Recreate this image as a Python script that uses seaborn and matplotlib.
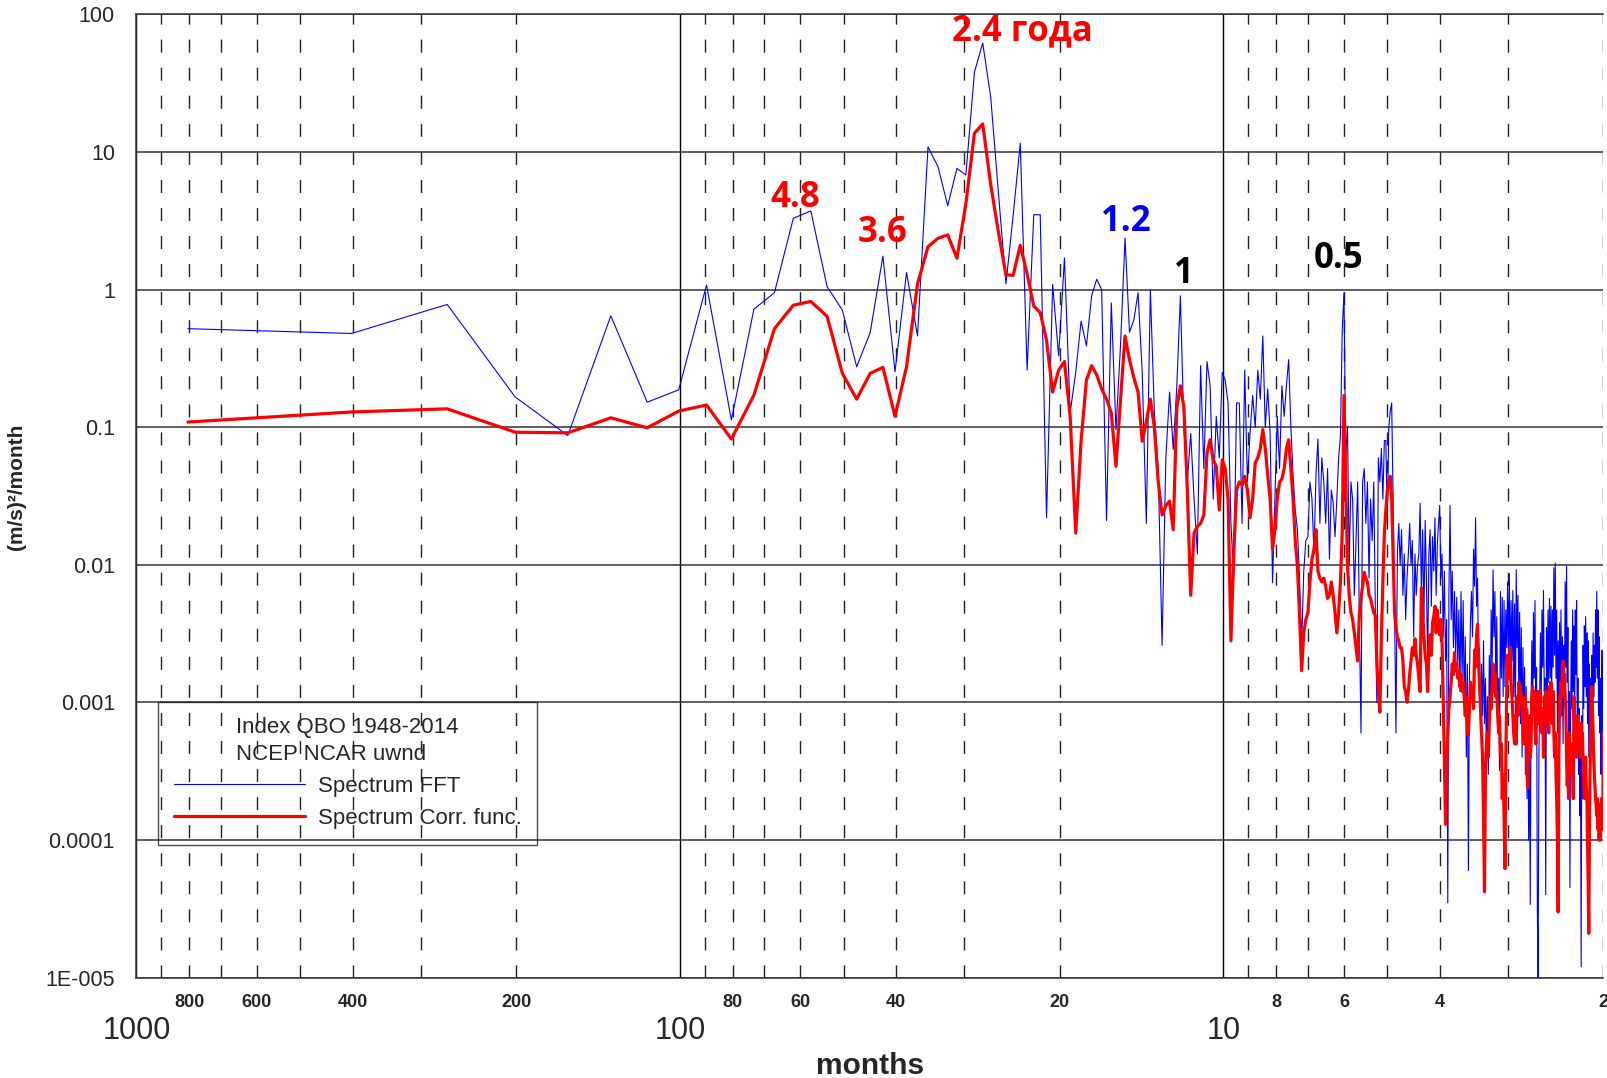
import numpy as np
import pandas as pd
import matplotlib
matplotlib.use("Agg")
import matplotlib.pyplot as plt
import seaborn as sns
from matplotlib.ticker import LogLocator, NullFormatter
from matplotlib.lines import Line2D

# Monthly QBO index record, 1948-2014
RECORD_MONTHS = 804

# FFT power spectrum, (m/s)^2/month, harmonics k = 1..80
fft_low = [0.52, 0.48, 0.78, 0.166, 0.087, 0.645, 0.152, 0.187, 1.08, 0.113,
           0.72, 0.95, 3.3, 3.73, 1.05, 0.71, 0.275, 0.486, 1.75, 0.253,
           1.33, 0.46, 10.9, 7.8, 4.07, 7.6, 6.8, 38, 62, 25,
           5.0, 1.1, 3.5, 11.6, 0.26, 3.5, 3.5, 0.022, 1.09, 0.33,
           1.7, 0.127, 0.25, 0.59, 0.39, 0.9, 1.19, 1.0, 0.021, 0.8,
           0.096, 0.4, 2.37, 0.49, 0.6, 0.95, 0.25, 0.02, 1.0, 0.13,
           0.05, 0.0026, 0.06, 0.18, 0.069, 0.2, 0.9, 0.1, 0.04, 0.09,
           0.03, 0.012, 0.28, 0.05, 0.3, 0.2, 0.03, 0.12, 0.06, 0.25]
# harmonics k = 81..184
fft_mid = [0.22, 0.15, 0.02, 0.008, 0.15, 0.15, 0.02, 0.26, 0.04, 0.09,
           0.17, 0.1, 0.26, 0.16, 0.46, 0.1, 0.19, 0.09, 0.0074, 0.03,
           0.12, 0.05, 0.2, 0.12, 0.2, 0.31, 0.1, 0.045, 0.025, 0.018,
           0.008, 0.0027, 0.009, 0.015, 0.016, 0.04, 0.03, 0.012, 0.045, 0.082,
           0.02, 0.06, 0.04, 0.02, 0.05, 0.011, 0.035, 0.028, 0.016, 0.03,
           0.06, 0.086, 0.5, 0.95, 0.06, 0.1, 0.01, 0.04, 0.03, 0.006,
           0.015, 0.04, 0.004, 0.0006, 0.04, 0.05, 0.02, 0.04, 0.008, 0.03,
           0.015, 0.04, 0.005, 0.001, 0.06, 0.04, 0.07, 0.03, 0.08, 0.08,
           0.02, 0.1, 0.13, 0.15, 0.03, 0.005, 0.0006, 0.012, 0.02, 0.01,
           0.018, 0.006, 0.012, 0.004, 0.008, 0.012, 0.02, 0.01, 0.015, 0.003,
           0.012, 0.006, 0.01, 0.012]
# harmonics k = 185..402
fft_high = [0.028, 0.006, 0.018, 0.004, 0.021, 0.008, 0.0019, 0.012, 0.018, 0.005,
            0.016, 0.009, 0.022, 0.006, 0.014, 0.02,
            0.027, 0.008, 0.012, 0.003, 0.009, 0.002, 0.004, 3.5e-5, 0.006, 0.027,
            0.004, 0.009, 0.0025, 0.0064, 0.002,
            0.0058, 0.0018, 0.0047, 0.0012, 0.0064, 0.0015, 0.0055, 0.0009, 0.003, 0.0004,
            0.0019, 6e-5, 0.0015, 0.004, 0.0064,
            0.003, 0.013, 0.007, 0.022, 0.005, 0.008, 0.0015, 0.0025, 0.0006, 0.0019,
            0.0008, 0.0028, 0.0007, 0.0015, 0.0004,
            0.0011, 0.0003, 0.0022, 0.0009, 0.0047, 0.0018, 0.0092, 0.003, 0.0064, 0.0012,
            0.0042, 0.0008, 0.0015, 0.00032, 0.0064,
            0.0015, 0.0058, 0.0011, 0.0055, 0.0013, 0.0047, 0.0025, 0.0075, 0.0022, 0.0086,
            0.0014, 0.0055, 0.002, 0.0065, 0.0011,
            0.0052, 0.0008, 0.0092, 0.0025, 0.006, 0.0012, 0.0045, 0.0007, 0.0035, 0.0004,
            0.0025, 0.0006, 0.0018, 0.0003, 0.0013,
            0.0002, 0.0009, 0.0001, 0.0006, 3.4e-5, 0.0009, 0.0028, 0.0008, 0.0045, 0.0015,
            0.0055, 0.0006, 0.0018, 3e-5, 1e-5,
            0.0004, 0.0011, 0.0032, 0.001, 0.0047, 0.0018, 0.0065, 0.0012, 0.0015, 4e-5,
            0.0035, 0.0009, 0.0047, 0.0014, 0.0057,
            0.0015, 0.005, 0.0011, 0.0047, 0.0018, 0.0095, 0.0022, 0.0103, 0.0015, 0.0047,
            0.0006, 0.0028, 0.0009, 0.0038, 0.0012,
            0.0047, 0.0008, 0.003, 0.0005, 0.0026, 0.0012, 0.0075, 0.0018, 0.0098, 0.0014,
            0.0035, 0.0005, 0.0012, 4.5e-5, 0.0008,
            0.0028, 0.0009, 0.0047, 0.0012, 0.0036, 0.0007, 0.0047, 0.0016, 0.0055, 0.0006,
            0.0015, 0.0003, 0.0009, 0.00015, 0.0004,
            1.2e-5, 0.0008, 0.0002, 0.0026, 0.0009, 0.0036, 0.0013, 0.0042, 0.0011, 0.0032,
            0.0007, 0.0028, 0.0004, 0.0019, 0.0006,
            0.0015, 0.0005, 0.0022, 0.0009, 0.0032, 0.0011, 0.0026, 0.0014, 0.0047, 0.0018,
            0.0064, 0.0015, 0.0047, 0.0008, 0.003,
            0.0006, 0.0015, 0.0003, 0.0012, 0.0024, 0.0006, 0.0015]

# Spectrum from the correlation function, harmonics k = 1..80
corr_low = [0.109, 0.129, 0.136, 0.092, 0.091, 0.117, 0.099, 0.131, 0.145, 0.082,
            0.171, 0.52, 0.77, 0.82, 0.64, 0.246, 0.16, 0.246, 0.272, 0.12,
            0.275, 1.1, 2.05, 2.36, 2.5, 1.69, 4.2, 13.7, 16, 5.8,
            2.6, 1.28, 1.27, 2.1, 1.3, 0.76, 0.68, 0.43, 0.18, 0.26,
            0.30, 0.12, 0.017, 0.08, 0.22, 0.28, 0.24, 0.19, 0.16, 0.127,
            0.052, 0.16, 0.46, 0.31, 0.23, 0.18, 0.079, 0.11, 0.16, 0.10,
            0.04, 0.023, 0.027, 0.029, 0.018, 0.14, 0.2, 0.14, 0.035, 0.006,
            0.017, 0.019, 0.02, 0.023, 0.065, 0.081, 0.058, 0.052, 0.025, 0.058]
# harmonics k = 81..184
corr_mid = [0.05, 0.03, 0.0028, 0.012, 0.035, 0.04, 0.038, 0.044, 0.035, 0.022,
            0.03, 0.055, 0.06, 0.07, 0.096, 0.07, 0.045, 0.03, 0.013, 0.018,
            0.03, 0.04, 0.042, 0.05, 0.07, 0.081, 0.05, 0.03, 0.015, 0.0098,
            0.0043, 0.0017, 0.0032, 0.004, 0.0045, 0.0075, 0.011, 0.013, 0.018, 0.009,
            0.008, 0.0075, 0.008, 0.007, 0.0057, 0.006, 0.0075, 0.006, 0.0045, 0.0032,
            0.0045, 0.0075, 0.017, 0.17, 0.04, 0.01, 0.006, 0.0045, 0.004, 0.0032,
            0.0025, 0.002, 0.0043, 0.0057, 0.007, 0.0088, 0.008, 0.0075, 0.006, 0.0057,
            0.005, 0.0045, 0.0043, 0.002, 0.0012, 0.00085, 0.003, 0.0075, 0.017, 0.025,
            0.035, 0.04, 0.044, 0.03, 0.012, 0.0045, 0.0035, 0.003, 0.0028, 0.0025,
            0.0025, 0.002, 0.0013, 0.0012, 0.001, 0.0012, 0.0016, 0.002, 0.0025, 0.0022,
            0.0029, 0.0022, 0.0019, 0.0015]
# harmonics k = 185..402
corr_high = [0.0012, 0.0068, 0.0047, 0.003, 0.0022, 0.0019, 0.0012, 0.0025, 0.0031, 0.0022,
             0.0038, 0.0042, 0.005, 0.0032, 0.0047, 0.0035,
             0.0031, 0.004, 0.0028, 0.0011, 0.0004, 0.00013, 0.0003, 0.00058, 0.0009, 0.0011,
             0.0014, 0.0019, 0.0016, 0.0023, 0.0017,
             0.0019, 0.0015, 0.0017, 0.0013, 0.0016, 0.0012, 0.0014, 0.0011, 0.0008, 0.0011,
             0.0006, 0.00058, 0.0009, 0.0014, 0.0011,
             0.0013, 0.0009, 0.0024, 0.0018, 0.0031, 0.0037, 0.002, 0.0013, 0.0009, 0.0006,
             0.0004, 0.00015, 4.2e-5, 0.0003, 0.0005,
             0.0006, 0.0004, 0.0007, 0.0011, 0.0009, 0.0014, 0.0019, 0.0012, 0.0016, 0.0011,
             0.0012, 0.0008, 0.0006, 0.0008, 0.0004,
             0.0005, 0.0002, 0.0003, 0.00015, 6.2e-5, 0.0004, 0.0012, 0.0022, 0.0015, 0.0018,
             0.0025, 0.0014, 0.0011, 0.0008, 0.0006,
             0.0005, 0.0008, 0.0005, 0.0011, 0.0008, 0.0014, 0.001, 0.0013, 0.0011, 0.0009,
             0.0006, 0.0005, 0.0008, 0.0011, 0.0007,
             0.0003, 0.00024, 0.0006, 0.0008, 0.0004, 0.0005, 0.0011, 0.0013, 0.0009, 0.0012,
             0.0007, 0.0005, 0.0009, 0.0008, 0.0012,
             0.0007, 0.0012, 0.0009, 0.0008, 0.0006, 0.0009, 0.0004, 0.0011, 0.0008, 0.0012,
             0.0009, 0.0007, 0.0011, 0.0006, 0.0013,
             0.0008, 0.0014, 0.0009, 0.0007, 0.0012, 0.0006, 0.0004, 0.0006, 0.0003, 0.0002,
             0.0001, 3e-5, 0.0004, 0.0011, 0.0008,
             0.0014, 0.0011, 0.0017, 0.002, 0.0015, 0.0016, 0.0011, 0.0009, 0.0004, 0.00025,
             0.0003, 0.0002, 0.0006, 0.0004, 0.0005,
             0.0004, 0.0003, 0.00035, 0.0002, 0.0011, 0.0007, 0.0008, 0.0005, 0.0004, 0.0005,
             0.0008, 0.0006, 0.0005, 0.0007, 0.0004,
             0.0007, 0.0005, 0.0006, 0.0004, 0.00025, 0.0002, 0.0003, 0.0004, 0.00025, 0.0002,
             0.0001, 5e-5, 2.1e-5, 0.0001, 0.0003,
             0.0007, 0.0011, 0.0013, 0.0009, 0.0006, 0.0004, 0.0003, 0.00025, 0.0002, 0.00018,
             0.00015, 0.0002, 0.00012, 0.00018, 0.0001,
             0.00015, 0.0001, 0.00018, 0.0002, 0.0002, 0.00012, 0.0006]

# Axis ticks
y_ticks = [1e-5, 1e-4, 1e-3, 1e-2, 1e-1, 1, 10, 100]
y_labels = ["1E-005", "0.0001", "0.001", "0.01", "0.1", "1", "10", "100"]
x_major = [1000, 100, 10]
x_major_labels = ["1000", "100", "10"]
x_minor = [900, 800, 700, 600, 500, 400, 300, 200,
           90, 80, 70, 60, 50, 40, 30, 20,
           9, 8, 7, 6, 5, 4, 3, 2]
x_minor_labels = ["", "800", "", "600", "", "400", "", "200",
                  "", "80", "", "60", "", "40", "", "20",
                  "", "8", "", "6", "", "4", "", "2"]

# Peak annotations: (text, period in months, level, colour)
peak_notes = [("2.4 года", 23.4, 76.0, "#ff0000"),
              ("4.8", 61.4, 4.65, "#ff0000"),
              ("3.6", 42.3, 2.56, "#ff0000"),
              ("1.2", 15.1, 3.1, "#0000ff"),
              ("1", 11.8, 1.29, "#000000"),
              ("0.5", 6.13, 1.68, "#000000")]

harmonic = np.arange(1, RECORD_MONTHS // 2 + 1)
spectra = pd.DataFrame({
    "period": RECORD_MONTHS / harmonic,
    "fft": fft_low + fft_mid + fft_high,
    "corr": corr_low + corr_mid + corr_high,
})

sns.set_style("white")
plt.rcParams["font.family"] = ["Liberation Sans", "DejaVu Sans"]

fig = plt.figure(figsize=(16.08, 10.78), dpi=100)
ax = fig.add_axes([0.08483, 0.09314, 0.91225, 0.8935])

sns.lineplot(data=spectra, x="period", y="fft", ax=ax, color="#0000ff",
             linewidth=0.8, estimator=None, sort=False, zorder=3)
sns.lineplot(data=spectra, x="period", y="corr", ax=ax, color="#ff0000",
             linewidth=2.3, estimator=None, sort=False, zorder=4)

ax.set_xscale("log")
ax.set_yscale("log")
ax.set_xlim(1000, 2)
ax.set_ylim(1e-5, 100)

# x axis: decade labels large, intermediate labels small and bold
ax.set_xticks(x_major, labels=x_major_labels, fontsize=22)
ax.set_xticks(x_minor, labels=x_minor_labels, minor=True, fontsize=13,
              fontweight="bold")
ax.tick_params(axis="x", which="major", direction="out", length=19.5,
               width=1.0, color="#111111", pad=8)
ax.tick_params(axis="x", which="minor", direction="out", length=8,
               width=1.0, color="#111111", pad=3.5)

# y axis
ax.set_yticks(y_ticks, labels=y_labels, fontsize=15.5)
ax.yaxis.set_minor_locator(LogLocator(base=10, subs=np.arange(2, 10), numticks=40))
ax.yaxis.set_minor_formatter(NullFormatter())
ax.tick_params(axis="y", which="major", direction="out", length=10,
               width=1.0, color="#333333", pad=5.5)
ax.tick_params(axis="y", which="minor", direction="out", length=6,
               width=1.0, color="#333333")

# grid
ax.grid(False)
ax.grid(which="major", axis="y", color="#333333", linewidth=1.1, zorder=1)
ax.grid(which="major", axis="x", color="#000000", linewidth=1.0, zorder=1)
ax.grid(which="minor", axis="x", color="#222222", linewidth=1.0,
        linestyle=(0, (9.4, 10.8)), zorder=1)
ax.set_axisbelow(True)

for side in ("left", "top", "bottom"):
    ax.spines[side].set_visible(True)
    ax.spines[side].set_color("#333333")
    ax.spines[side].set_linewidth(1.1)
ax.spines["right"].set_visible(False)

ax.set_xlabel("months", fontsize=21.5, fontweight="bold")
ax.xaxis.set_label_coords(0.5, -0.077)
ax.set_ylabel("(m/s)²/month", fontsize=15, fontweight="bold")
ax.yaxis.set_label_coords(-0.0753, 0.51)

for text, px, py, col in peak_notes:
    ax.text(px, py, text, color=col, fontsize=25, fontweight="bold",
            ha="center", va="center", family=["Open Sans", "DejaVu Sans"],
            zorder=6)

handles = [Line2D([], [], color="#0000ff", linewidth=0.8),
           Line2D([], [], color="#ff0000", linewidth=2.3)]
leg = ax.legend(handles, ["Spectrum FFT", "Spectrum Corr. func."],
                title="Index QBO 1948-2014\nNCEP NCAR uwnd",
                loc="upper left", bbox_to_anchor=(0.0147, 0.2864),
                borderaxespad=0, fontsize=16, title_fontsize=16,
                frameon=True, fancybox=False, shadow=False,
                handlelength=5.9, handletextpad=0.6, labelspacing=0.5,
                borderpad=0.7)
leg.get_title().set_linespacing(1.35)
frame = leg.get_frame()
frame.set_facecolor("none")
frame.set_edgecolor("#222222")
frame.set_linewidth(1.0)

fig.savefig("out.png", dpi=100)
